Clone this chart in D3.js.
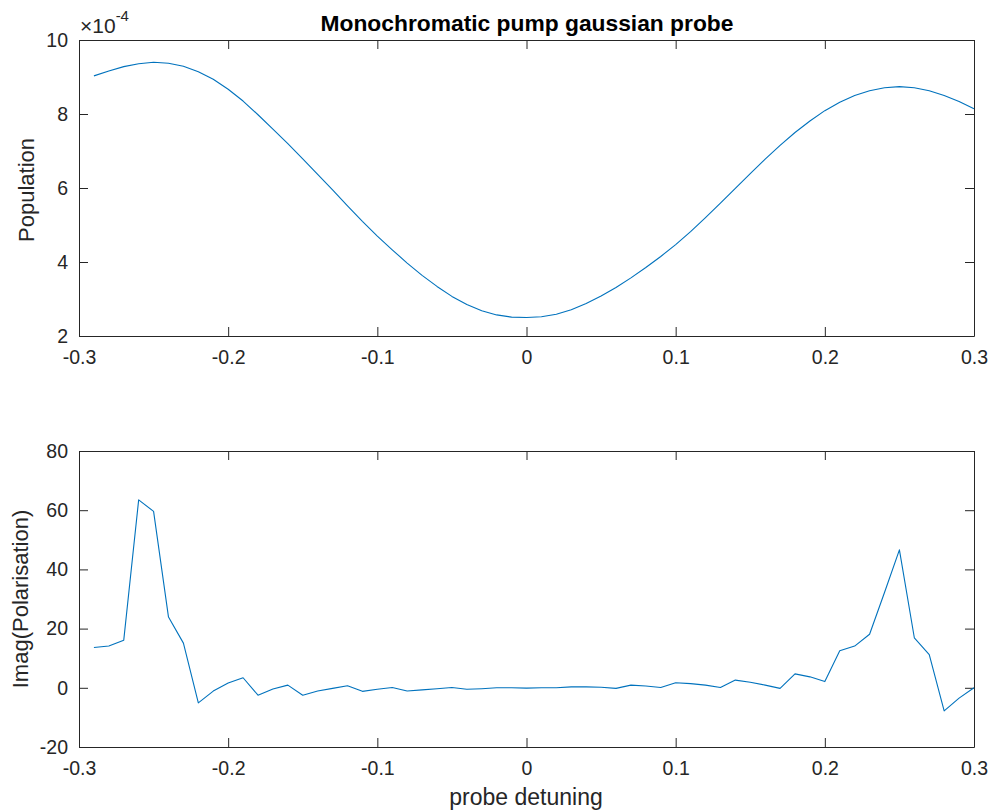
<!DOCTYPE html>
<html>
<head>
<meta charset="utf-8">
<script src="https://cdn.jsdelivr.net/npm/d3@7"></script>
<style>
  html, body { margin: 0; padding: 0; background: #fff; }
  svg { display: block; }
  text { font-family: "Liberation Sans", Arial, Helvetica, sans-serif; fill: #262626; }
</style>
</head>
<body>
<svg id="chart" width="990" height="812"></svg>
<script>
// Probe detuning grid (shared by both panels)
const detuning = [
  -0.29, -0.28, -0.27, -0.26, -0.25, -0.24, -0.23, -0.22, -0.21, -0.20,
  -0.19, -0.18, -0.17, -0.16, -0.15, -0.14, -0.13, -0.12, -0.11, -0.10,
  -0.09, -0.08, -0.07, -0.06, -0.05, -0.04, -0.03, -0.02, -0.01, 0.00,
   0.01,  0.02,  0.03,  0.04,  0.05,  0.06,  0.07,  0.08,  0.09, 0.10,
   0.11,  0.12,  0.13,  0.14,  0.15,  0.16,  0.17,  0.18,  0.19, 0.20,
   0.21,  0.22,  0.23,  0.24,  0.25,  0.26,  0.27,  0.28,  0.29, 0.30
];

// Upper-state population, in units of 1e-4
const populationE4 = [
  9.03, 9.16, 9.28, 9.36, 9.40, 9.37, 9.29, 9.14, 8.94, 8.67,
  8.35, 7.98, 7.59, 7.20, 6.79, 6.37, 5.95, 5.52, 5.10, 4.70,
  4.33, 3.97, 3.64, 3.34, 3.07, 2.85, 2.68, 2.57, 2.51, 2.50,
  2.52, 2.59, 2.71, 2.88, 3.08, 3.31, 3.57, 3.85, 4.15, 4.47,
  4.82, 5.20, 5.59, 5.99, 6.39, 6.78, 7.15, 7.50, 7.81, 8.09,
  8.32, 8.50, 8.63, 8.71, 8.74, 8.71, 8.63, 8.50, 8.34, 8.14
];

// Imaginary part of the polarisation
const imagPolarisation = [
  13.6, 14.1, 16.1, 63.5, 59.6, 23.9, 15.1, -5.1, -1.1, 1.6,
   3.4, -2.5, -0.4, 0.9, -2.5, -1.1, -0.2, 0.7, -1.2, -0.5,
   0.1, -1.1, -0.7, -0.3, 0.1, -0.5, -0.3, 0.0, 0.0, -0.1,
   0.0, 0.0, 0.3, 0.3, 0.2, -0.2, 0.9, 0.6, 0.1, 1.7,
   1.4, 0.9, 0.1, 2.6, 1.9, 0.9, -0.2, 4.7, 3.7, 2.1,
  12.5, 14.1, 18.1, 32.2, 46.6, 16.9, 11.2, -7.8, -3.5, 0.0
];

// Tick values and their printed labels
const xTicks = [-0.3, -0.2, -0.1, 0, 0.1, 0.2, 0.3];
const xTickLabels = ["-0.3", "-0.2", "-0.1", "0", "0.1", "0.2", "0.3"];
const popTicks = [2, 4, 6, 8, 10];
const popTickLabels = ["2", "4", "6", "8", "10"];
const polTicks = [-20, 0, 20, 40, 60, 80];
const polTickLabels = ["-20", "0", "20", "40", "60", "80"];

const titleText = "Monochromatic pump gaussian probe";
const xLabelText = "probe detuning";
const popLabelText = "Population";
const polLabelText = "Imag(Polarisation)";

const svg = d3.select("#chart");
const axisColor = "#262626";
const lineColor = "#0072BD";
const tickLen = 9;
const tickFont = 19.5;
const labelFont = 22;

const left = 79, right = 974;

function panel(top, bottom, yDomain, yTicks, yLabels, values) {
  const x = d3.scaleLinear().domain([-0.3, 0.3]).range([left, right]);
  const y = d3.scaleLinear().domain(yDomain).range([bottom, top]);
  const g = svg.append("g");

  const fmtX = (d, i) => xTickLabels[i];
  const fmtY = (d, i) => yLabels[i];

  // bottom axis with labels, ticks pointing inward
  const ax = g.append("g").attr("transform", `translate(0,${bottom})`)
    .call(d3.axisBottom(x).tickValues(xTicks).tickSizeInner(-tickLen).tickSizeOuter(0).tickPadding(14).tickFormat(fmtX));
  // top axis (ticks only)
  const axT = g.append("g").attr("transform", `translate(0,${top})`)
    .call(d3.axisTop(x).tickValues(xTicks).tickSizeInner(-tickLen).tickSizeOuter(0).tickFormat(""));
  // left axis with labels
  const ay = g.append("g").attr("transform", `translate(${left},0)`)
    .call(d3.axisLeft(y).tickValues(yTicks).tickSizeInner(-tickLen).tickSizeOuter(0).tickPadding(11).tickFormat(fmtY));
  // right axis (ticks only)
  const ayR = g.append("g").attr("transform", `translate(${right},0)`)
    .call(d3.axisRight(y).tickValues(yTicks).tickSizeInner(-tickLen).tickSizeOuter(0).tickFormat(""));

  [ax, axT, ay, ayR].forEach(a => {
    a.selectAll("path.domain").attr("stroke", axisColor).attr("stroke-width", 1);
    a.selectAll(".tick line").attr("stroke", axisColor).attr("stroke-width", 1);
    a.selectAll(".tick text").attr("font-size", tickFont).attr("fill", axisColor)
      .style("font-family", '"Liberation Sans", Arial, Helvetica, sans-serif');
  });

  const line = d3.line().x((d, i) => x(detuning[i])).y(d => y(d));
  g.append("path").datum(values)
    .attr("fill", "none").attr("stroke", lineColor).attr("stroke-width", 1.1)
    .attr("stroke-linejoin", "round")
    .attr("d", line);

  return { x, y };
}

// Upper panel: population
panel(40, 336, [2, 10], popTicks, popTickLabels, populationE4);
// Lower panel: imaginary polarisation
panel(451, 747, [-20, 80], polTicks, polTickLabels, imagPolarisation);

// Title
svg.append("text").attr("x", 527).attr("y", 31).attr("text-anchor", "middle")
  .attr("font-size", 22.8).attr("font-weight", "bold").style("fill", "#000")
  .text(titleText);

// Exponent annotation for the population axis
const expo = svg.append("text").attr("x", 80).attr("y", 33).attr("font-size", 21);
expo.append("tspan").text("\u00D710");
expo.append("tspan").attr("dy", -12).attr("font-size", 15).text("-4");

// Axis labels
svg.append("text").attr("transform", "translate(34,190) rotate(-90)")
  .attr("text-anchor", "middle").attr("font-size", labelFont).text(popLabelText);
svg.append("text").attr("transform", "translate(28,599) rotate(-90)")
  .attr("text-anchor", "middle").attr("font-size", labelFont).text(polLabelText);
svg.append("text").attr("x", 526).attr("y", 805).attr("text-anchor", "middle")
  .attr("font-size", 23).text(xLabelText);
</script>
</body>
</html>
